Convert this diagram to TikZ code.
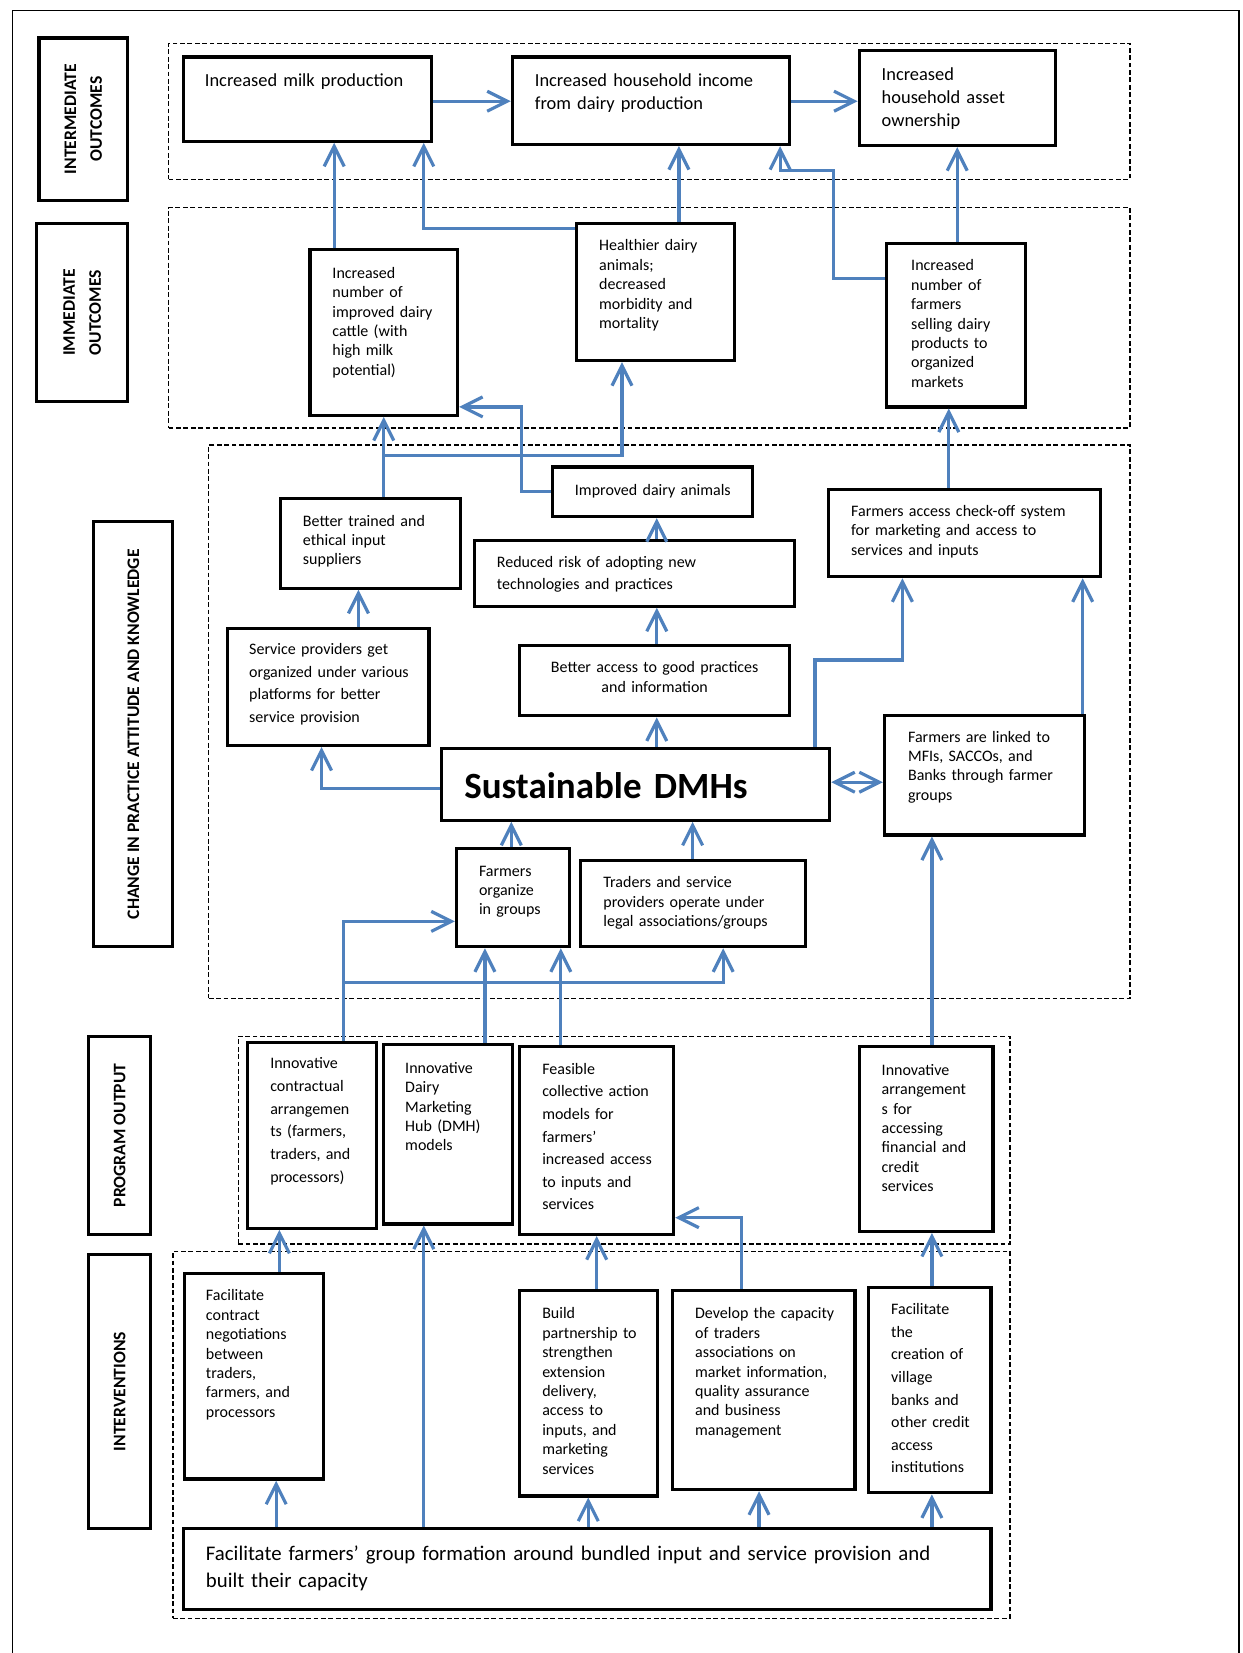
\documentclass[tikz,border=0pt]{standalone}
\usepackage{fontspec}
\setmainfont{Carlito}
\usetikzlibrary{arrows.meta}
\usetikzlibrary{fit}
\definecolor{linkblue}{RGB}{79,129,189}

\begin{document}
\begin{tikzpicture}[x=0.527pt, y=-0.527pt, >={Straight Barb[length=10pt,width=10pt]},
    box/.style={draw, line width=1.6pt, inner sep=0pt},
    group/.style={draw, line width=0.7pt, dash pattern=on 2.4pt off 1.3pt, inner sep=0pt},
    txt/.style={anchor=base west, inner sep=0pt, text width=250pt, align=left, font=\fontsize{8}{9.7}\selectfont},
    loose/.style={font=\fontsize{8}{11.3}\selectfont},
    midtxt/.style={font=\fontsize{9.2}{11.6}\selectfont},
    cattxt/.style={rotate=90, inner sep=0pt, align=center, font=\bfseries\fontsize{8.8}{12.9}\selectfont},
    link/.style={draw=linkblue, line width=1.6pt, ->}]
    \useasboundingbox (0,0) rectangle (1179,1568);
    \draw[line width=0.8pt] (12,1568) -- (12,10) -- (1175,10) -- (1175,1568);

    % levels
    \node[box, fit={(37,36) (121,190)}] (lvl1) {};
    \node[box, fit={(35,212) (121,381)}] (lvl2) {};
    \node[box, fit={(89,495) (164,898)}] (lvl3) {};
    \node[box, fit={(84,983) (143,1171)}] (lvl4) {};
    \node[box, fit={(84,1190) (143,1450)}] (lvl5) {};
    \node[cattxt] (lvl1-t) at (lvl1) {INTERMEDIATE\\OUTCOMES};
    \node[cattxt] (lvl2-t) at (lvl2) {IMMEDIATE\\OUTCOMES};
    \node[cattxt] (lvl3-t) at (lvl3) {CHANGE IN PRACTICE ATTITUDE AND KNOWLEDGE};
    \node[cattxt] (lvl4-t) at (lvl4) {PROGRAM OUTPUT};
    \node[cattxt] (lvl5-t) at (lvl5) {INTERVENTIONS};

    \node[group, fit={(160,41) (1072,170)}] (g1) {};
    \node[group, fit={(160,197) (1072,406)}] (g2) {};
    \node[group, fit={(198,422) (1072,947)}] (g3) {};
    \node[group, fit={(226,983) (958,1180)}] (g4) {};
    \node[group, fit={(164,1187) (958,1535)}] (g5) {};

    % intermediate outcomes
    \node[box, fit={(174,54) (409,134)}] (milk) {};
    \node[txt, midtxt] (milk-t) at (194,82) {Increased milk production};
    \node[box, fit={(486,54) (749,137)}] (income) {};
    \node[txt, midtxt] (income-t) at (507,82) {Increased household income\\from dairy production};
    \node[box, fit={(815,48) (1001,138)}] (asset) {};
    \node[txt, midtxt] (asset-t) at (836,76) {Increased\\household asset\\ownership};

    % immediate outcomes
    \node[box, fit={(294,237) (434,394)}] (cattle) {};
    \node[txt] (cattle-t) at (315,264) {Increased\\number of\\improved dairy\\cattle (with\\high milk\\potential)};
    \node[box, fit={(547,212) (697,342)}] (healthy) {};
    \node[txt] (healthy-t) at (568,238) {Healthier dairy\\animals;\\decreased\\morbidity and\\mortality};
    \node[box, fit={(841,231) (973,386)}] (selling) {};
    \node[txt] (selling-t) at (864,257) {Increased\\number of\\farmers\\selling dairy\\products to\\organized\\markets};

    % change in practice
    \node[box, fit={(524,443) (714,490)}] (improved) {};
    \node[txt] (improved-t) at (545,470) {Improved dairy animals};
    \node[box, fit={(266,473) (437,558)}] (trained) {};
    \node[txt] (trained-t) at (287,499) {Better trained and\\ethical input\\suppliers};
    \node[box, fit={(450,513) (754,575)}] (risk) {};
    \node[txt, loose] (risk-t) at (471,538) {Reduced risk of adopting new\\technologies and practices};
    \node[box, fit={(786,464) (1044,547)}] (checkoff) {};
    \node[txt] (checkoff-t) at (807,490) {Farmers access check-off system\\for marketing and access to\\services and inputs};
    \node[box, fit={(216,596) (407,707)}] (platforms) {};
    \node[txt, loose] (platforms-t) at (236,621) {Service providers get\\organized under various\\platforms for better\\service provision};
    \node[box, fit={(493,612) (749,679)}] (access) {};
    \node[txt, anchor=base, text width=130pt, align=center] (access-t) at (621,638) {Better access to good practices\\and information};
    \node[box, fit={(419,710) (787,778)}] (dmh) {};
    \node[txt, font=\bfseries\fontsize{18.5}{22}\selectfont] (dmh-t) at (440,757) {Sustainable DMHs};
    \node[box, fit={(839,679) (1029,792)}] (mfi) {};
    \node[txt] (mfi-t) at (861,704) {Farmers are linked to\\MFIs, SACCOs, and\\Banks through farmer\\groups};
    \node[box, fit={(433,805) (540,898)}] (organize) {};
    \node[txt] (organize-t) at (454,831) {Farmers\\organize\\in groups};
    \node[box, fit={(551,816) (764,898)}] (traders) {};
    \node[txt] (traders-t) at (572,842) {Traders and service\\providers operate under\\legal associations/groups};

    % program output
    \node[box, fit={(235,989) (357,1165)}] (contract) {};
    \node[txt, loose] (contract-t) at (256,1014) {Innovative\\contractual\\arrangemen\\ts (farmers,\\traders, and\\processors)};
    \node[box, fit={(364,991) (486,1161)}] (hubs) {};
    \node[txt] (hubs-t) at (384,1018) {Innovative\\Dairy\\Marketing\\Hub (DMH)\\models};
    \node[box, fit={(493,993) (639,1171)}] (collective) {};
    \node[txt, loose] (collective-t) at (514,1019) {Feasible\\collective action\\models for\\farmers’\\increased access\\to inputs and\\services};
    \node[box, fit={(815,993) (942,1168)}] (finance) {};
    \node[txt] (finance-t) at (836,1020) {Innovative\\arrangement\\s for\\accessing\\financial and\\credit\\services};

    % interventions
    \node[box, fit={(175,1208) (307,1403)}] (negotiate) {};
    \node[txt] (negotiate-t) at (195,1234) {Facilitate\\contract\\negotiations\\between\\traders,\\farmers, and\\processors};
    \node[box, fit={(493,1224) (624,1419)}] (partner) {};
    \node[txt] (partner-t) at (514,1251) {Build\\partnership to\\strengthen\\extension\\delivery,\\access to\\inputs, and\\marketing\\services};
    \node[box, fit={(638,1224) (811,1413)}] (capacity) {};
    \node[txt] (capacity-t) at (659,1251) {Develop the capacity\\of traders\\associations on\\market information,\\quality assurance\\and business\\management};
    \node[box, fit={(824,1221) (940,1416)}] (village) {};
    \node[txt, loose] (village-t) at (845,1247) {Facilitate\\the\\creation of\\village\\banks and\\other credit\\access\\institutions};
    \node[box, fit={(174,1450) (940,1527)}] (groups) {};
    \node[txt, text width=420pt, font=\fontsize{10.4}{13.7}\selectfont] (groups-t) at (195,1480) {Facilitate farmers’ group formation around bundled input and service provision and\\built their capacity};

    % links: intermediate
    \draw[link] (milk.east |- 0,96) -- (income.west |- 0,96);
    \draw[link] (income.east |- 0,96) -- (asset.west |- 0,96);
    % links: immediate -> intermediate
    \draw[link] (cattle.north -| 317,0) -- (milk.south -| 317,0);
    \draw[link] (healthy.west |- 0,217) -| (milk.south -| 402,0);
    \draw[link] (healthy.north -| 644,0) -- (income.south -| 644,0);
    \draw[link] (selling.west |- 0,264) -| (791,162) -| (income.south -| 740,0);
    \draw[link] (selling.north -| 908,0) -- (asset.south -| 908,0);
    % links: change -> immediate
    \draw[link] (trained.north -| 364,0) -- (cattle.south -| 364,0);
    \draw[link] (trained.north -| 364,0) |- (590,432) -- (healthy.south -| 590,0);
    \draw[link] (improved.west) -| (495,386) -- (cattle.east |- 0,386);
    \draw[link] (checkoff.north -| 900,0) -- (selling.south -| 900,0);
    % links: within change
    \draw[link] (risk.north -| 623,0) -- (improved.south -| 623,0);
    \draw[link] (platforms.north -| 340,0) -- (trained.south -| 340,0);
    \draw[link] (access.north -| 623,0) -- (risk.south -| 623,0);
    \draw[link] (dmh.north -| 623,0) -- (access.south -| 623,0);
    \draw[link] (dmh.west |- 0,748) -| (platforms.south -| 305,0);
    \draw[link] (dmh.north -| 773,0) |- (856,626) -- (checkoff.south -| 856,0);
    \draw[link] (mfi.north -| 1027,0) -- (checkoff.south -| 1027,0);
    \draw[link, <->] (dmh.east |- 0,742) -- (mfi.west |- 0,742);
    \draw[link] (organize.north -| 485,0) -- (dmh.south -| 485,0);
    \draw[link] (traders.north -| 657,0) -- (dmh.south -| 657,0);
    \draw[link] (finance.north -| 884,0) -- (mfi.south -| 884,0);
    % links: output -> change
    \draw[link] (contract.north -| 326,0) |- (organize.west |- 0,874);
    \draw[link] (contract.north -| 326,0) |- (686,932) -- (traders.south -| 686,0);
    \draw[link] (hubs.north -| 460,0) -- (organize.south -| 460,0);
    \draw[link] (collective.north -| 532,0) -- (organize.south -| 532,0);
    % links: interventions -> output
    \draw[link] (negotiate.north -| 265,0) -- (contract.south -| 265,0);
    \draw[link] (groups.north -| 402,0) -- (hubs.south -| 402,0);
    \draw[link] (partner.north -| 566,0) -- (collective.south -| 566,0);
    \draw[link] (capacity.north -| 703,0) |- (collective.east |- 0,1155);
    \draw[link] (village.north -| 884,0) -- (finance.south -| 884,0);
    \draw[link] (groups.north -| 262,0) -- (negotiate.south -| 262,0);
    \draw[link] (groups.north -| 558,0) -- (partner.south -| 558,0);
    \draw[link] (groups.north -| 720,0) -- (capacity.south -| 720,0);
    \draw[link] (groups.north -| 884,0) -- (village.south -| 884,0);
\end{tikzpicture}
\end{document}
